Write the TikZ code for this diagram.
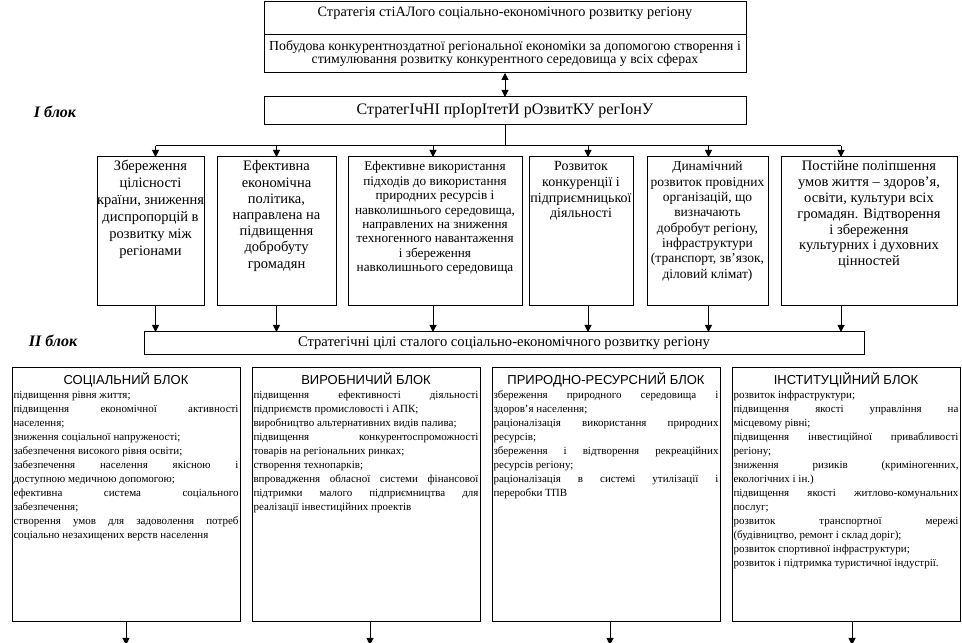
\documentclass[tikz,border=0pt]{standalone}
\usepackage{fontspec}
\setmainfont{Liberation Serif}
\setsansfont{Liberation Sans}
\usetikzlibrary{arrows.meta,positioning}
% text set at the top of a fixed box
\newcommand{\toptext}[3]{\parbox[c][#2][t]{#1}{\centering\rule{0pt}{14pt}#3}}
% block box: sans title, then justified items
\newcommand{\blocktext}[2]{\parbox[c][251pt][t]{225pt}{\centering\rule{0pt}{15pt}{\fontsize{13}{15}\sffamily #1}\par
  \fontsize{11}{14}\selectfont\leftskip=0pt\rightskip=0pt\parfillskip=0pt plus 1fil\tolerance=10000 #2}}
\tikzset{
  framebox/.style={draw=black, line width=1pt, inner sep=0pt, outer sep=0pt},
  stratbox/.style={framebox, minimum width=482pt, align=center},
  dirbox/.style={framebox},
  goalbox/.style={framebox, minimum width=720pt, minimum height=23pt},
  blockbox/.style={framebox, inner sep=1.5pt},
  blocklabel/.style={font=\fontsize{16}{18}\selectfont\bfseries\itshape},
  linkline/.style={line width=1pt},
  linkarrow/.style={-{Triangle[width=7pt,length=7pt]}, line width=1pt},
  linkboth/.style={{Triangle[width=7pt,length=7pt]}-{Triangle[width=7pt,length=7pt]}, line width=1pt},
}
\begin{document}
\begin{tikzpicture}[x=1pt, y=1pt]
  \useasboundingbox (0,0) rectangle (962,643);
  % strategy and priorities
  \node (strat) [stratbox, anchor=north west, font=\fontsize{14.3}{15}\selectfont] at (264,641)
    {\parbox[c][32.5pt][t]{480pt}{\centering\rule{0pt}{14.5pt}Стратегія стіАЛого соціально-економічного розвитку регіону}};
  \node (stratsub) [stratbox, minimum height=38.5pt, below=0pt of strat, font=\fontsize{13.8}{13.5}\selectfont]
    {Побудова конкурентноздатної регіональної економіки за допомогою створення і\\стимулювання розвитку конкурентного середовища у всіх сферах};
  \node (prio) [stratbox, minimum height=28pt, below=24pt of stratsub, font=\fontsize{16}{17}\selectfont]
    {СтратегІчНІ прІорІтетИ рОзвитКУ регІонУ};
  \node (blk1) [blocklabel] at (55,531) {I блок};

  % I block
  \node (dir1) [dirbox, anchor=north west, font=\fontsize{14.5}{17}\selectfont] at (97,486)
    {\toptext{107pt}{149pt}{Збереження\\цілісності\\країни, зниження\\диспропорцій в\\розвитку між\\регіонами}};
  \node (dir2) [dirbox, right=13pt of dir1, font=\fontsize{14.5}{16.2}\selectfont]
    {\toptext{119pt}{149pt}{Ефективна\\економічна\\політика,\\направлена на\\підвищення\\добробуту\\громадян}};
  \node (dir3) [dirbox, right=12pt of dir2, font=\fontsize{13.2}{14.4}\selectfont]
    {\toptext{174pt}{149pt}{Ефективне використання\\підходів до використання\\природних ресурсів і\\навколишнього середовища,\\направлених на зниження\\техногенного навантаження\\і збереження\\навколишнього середовища}};
  \node (dir4) [dirbox, right=7pt of dir3, font=\fontsize{14}{15.6}\selectfont]
    {\toptext{104pt}{149pt}{Розвиток\\конкуренції і\\підприємницької\\діяльності}};
  \node (dir5) [dirbox, right=14pt of dir4, font=\fontsize{13.5}{15.3}\selectfont]
    {\toptext{121pt}{149pt}{Динамічний\\розвиток провідних\\організацій, що\\визначають\\добробут регіону,\\інфраструктури\\(транспорт, зв'язок,\\діловий клімат)}};
  \node (dir6) [dirbox, right=13pt of dir5, font=\fontsize{14.5}{15.8}\selectfont]
    {\toptext{176pt}{149pt}{Постійне поліпшення\\умов життя -- здоров'я,\\освіти, культури всіх\\громадян. Відтворення\\і збереження\\культурних і духовних\\цінностей}};

  % II block
  \node (goals) [goalbox, font=\fontsize{14.6}{15}\selectfont] at (504,299.5)
    {Стратегічні цілі сталого соціально-економічного розвитку регіону};
  \node (blk2) [blocklabel] at (53,302) {II блок};

  \node (soc) [blockbox, anchor=north west] at (12,275)
    {\blocktext{СОЦІАЛЬНИЙ БЛОК}{підвищення рівня життя;\\
     підвищення економічної активності\linebreak населення;\\
     зниження соціальної напруженості;\\
     забезпечення високого рівня освіти;\\
     забезпечення населення якісною і\linebreak доступною медичною допомогою;\\
     ефективна система соціального\linebreak забезпечення;\\
     створення умов для задоволення потреб\linebreak соціально незахищених верств населення}};
  \node (vyr) [blockbox, right=12pt of soc]
    {\blocktext{ВИРОБНИЧИЙ БЛОК}{підвищення ефективності діяльності\linebreak підприємств промисловості і АПК;\\
     виробництво альтернативних видів палива;\\
     підвищення конкурентоспроможності\linebreak товарів на регіональних ринках;\\
     створення технопарків;\\
     впровадження обласної системи фінансової\linebreak підтримки малого підприємництва для\linebreak реалізації інвестиційних проектів}};
  \node (pryr) [blockbox, right=12pt of vyr]
    {\blocktext{ПРИРОДНО-РЕСУРСНИЙ БЛОК}{збереження природного середовища і\linebreak здоров'я населення;\\
     раціоналізація використання природних\linebreak ресурсів;\\
     збереження і відтворення рекреаційних\linebreak ресурсів регіону;\\
     раціоналізація в системі утилізації і\linebreak переробки ТПВ}};
  \node (inst) [blockbox, right=12pt of pryr]
    {\blocktext{ІНСТИТУЦІЙНИЙ БЛОК}{розвиток інфраструктури;\\
     підвищення якості управління на\linebreak місцевому рівні;\\
     підвищення інвестиційної привабливості\linebreak регіону;\\
     зниження ризиків (криміногенних,\linebreak екологічних і ін.)\\
     підвищення якості житлово-комунальних\linebreak послуг;\\
     розвиток транспортної мережі\linebreak (будівництво, ремонт і склад доріг);\\
     розвиток спортивної інфраструктури;\\
     розвиток і підтримка туристичної індустрії.}};

  % connectors
  \coordinate (bus) at ([yshift=-21pt]prio.south);
  \draw[linkboth] (stratsub) -- (prio);
  \draw[linkline] (prio) -- (bus);
  \draw[linkline] ([xshift=5pt]dir1.north |- bus) -- ([xshift=-28pt]dir6.north |- bus);
  \draw[linkarrow] ([xshift=5pt]dir1.north |- bus) -- ([xshift=5pt]dir1.north);
  \draw[linkarrow] (dir2.north |- bus) -- (dir2.north);
  \draw[linkarrow] ([xshift=-2pt]dir3.north |- bus) -- ([xshift=-2pt]dir3.north);
  \draw[linkarrow] ([xshift=7pt]dir4.north |- bus) -- ([xshift=7pt]dir4.north);
  \draw[linkarrow] ([xshift=1pt]dir5.north |- bus) -- ([xshift=1pt]dir5.north);
  \draw[linkarrow] ([xshift=-28pt]dir6.north |- bus) -- ([xshift=-28pt]dir6.north);

  \draw[linkarrow] ([xshift=5pt]dir1.south) -- ([xshift=5pt]dir1.south |- goals.north);
  \draw[linkarrow] (dir2.south) -- (dir2.south |- goals.north);
  \draw[linkarrow] ([xshift=-2pt]dir3.south) -- ([xshift=-2pt]dir3.south |- goals.north);
  \draw[linkarrow] ([xshift=7pt]dir4.south) -- ([xshift=7pt]dir4.south |- goals.north);
  \draw[linkarrow] ([xshift=1pt]dir5.south) -- ([xshift=1pt]dir5.south |- goals.north);
  \draw[linkarrow] ([xshift=-28pt]dir6.south) -- ([xshift=-28pt]dir6.south |- goals.north);

  \coordinate (socend)  at ([yshift=-23pt]soc.south);
  \coordinate (vyrend)  at ([xshift=4pt,yshift=-23pt]vyr.south);
  \coordinate (pryrend) at ([xshift=4pt,yshift=-23pt]pryr.south);
  \coordinate (instend) at ([xshift=6pt,yshift=-23pt]inst.south);
  \draw[linkarrow] (soc.south) -- (socend);
  \draw[linkarrow] ([xshift=4pt]vyr.south) -- (vyrend);
  \draw[linkarrow] ([xshift=4pt]pryr.south) -- (pryrend);
  \draw[linkarrow] ([xshift=6pt]inst.south) -- (instend);
\end{tikzpicture}
\end{document}
